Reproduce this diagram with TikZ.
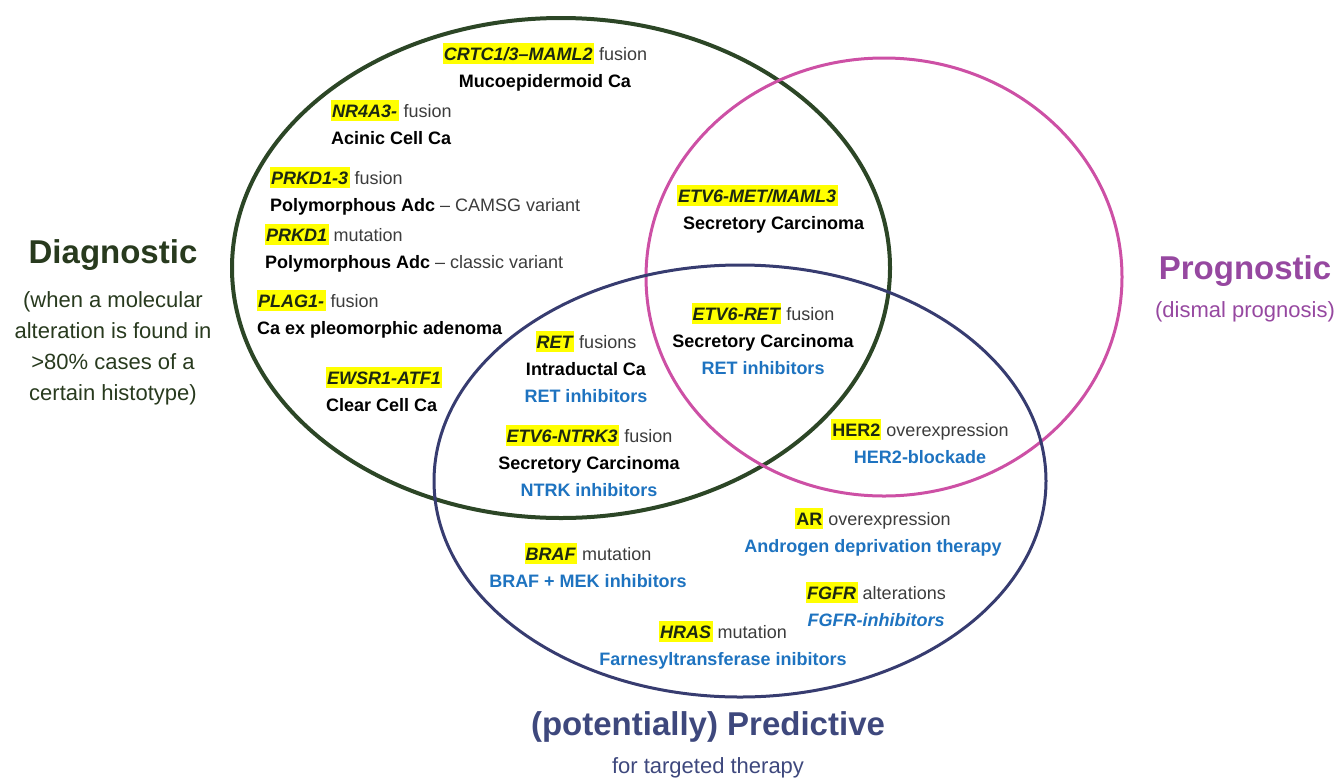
\documentclass[tikz,border=0pt]{standalone}
\usepackage{fontspec}
\setmainfont{Liberation Sans}
\usetikzlibrary{positioning}
\definecolor{diaggreen}{RGB}{44,70,38}
\definecolor{diagtext}{RGB}{40,58,30}
\definecolor{pinkline}{RGB}{205,80,165}
\definecolor{progtext}{RGB}{150,72,160}
\definecolor{navyline}{RGB}{55,60,112}
\definecolor{predtext}{RGB}{62,72,125}
\definecolor{bluetx}{RGB}{30,115,192}
\definecolor{hlyellow}{RGB}{255,255,0}
\definecolor{genec}{RGB}{28,40,18}
\definecolor{graytx}{RGB}{60,60,60}
\newcommand\gene[1]{{\setlength{\fboxsep}{0pt}\colorbox{hlyellow}{\rule[-3.5pt]{0pt}{21pt}\hspace{1pt}\color{genec}\bfseries\itshape #1\hspace{1.5pt}}}}
\newcommand\geneup[1]{{\setlength{\fboxsep}{0pt}\colorbox{hlyellow}{\rule[-3.5pt]{0pt}{21pt}\hspace{1pt}\color{genec}\bfseries #1\hspace{1pt}}}}
\newcommand\rg[1]{{\color{graytx}#1}}
\newcommand\dis[1]{{\bfseries #1}}
\newcommand\thr[1]{{\color{bluetx}\bfseries #1}}
\tikzset{
  entry/.style={inner sep=0pt, font=\fontsize{18}{27}\selectfont},
  entryc/.style={entry, align=center},
  entryl/.style={entry, align=left, anchor=west},
  greenring/.style={draw=diaggreen, line width=4pt},
  pinkring/.style={draw=pinkline, line width=3pt},
  navyring/.style={draw=navyline, line width=3pt},
  bigtitle/.style={inner sep=0pt, font=\fontsize{33}{36}\selectfont\bfseries},
  subtitle/.style={inner sep=0pt, align=center, font=\fontsize{22}{31}\selectfont},
}
\begin{document}
\begin{tikzpicture}[x=1pt,y=-1pt]
\useasboundingbox (0,0) rectangle (1337,782);
% circles
\draw[greenring] (561,268) ellipse [x radius=329pt, y radius=250pt];
\draw[pinkring] (884,277) ellipse [x radius=238pt, y radius=219pt];
\draw[navyring] (740,481) ellipse [x radius=306pt, y radius=216pt];
% titles
\node[bigtitle, text=diagtext] (diag) at (113,255) {Diagnostic};
\node[subtitle, text=diagtext] (diagsub) at (113,348) {(when a molecular\\alteration is found in\\>80\% cases of a\\certain histotype)};
\node[bigtitle, text=progtext] (prog) at (1245,271) {Prognostic};
\node[subtitle, text=progtext] (progsub) at (1245,312) {(dismal prognosis)};
\node[bigtitle, text=predtext] (pred) at (708,727) {(potentially) Predictive};
\node[subtitle, text=predtext] (predsub) at (708,768) {for targeted therapy};
% diagnostic only
\node[entryc] (crtc) at (545,67) {\gene{CRTC1/3–MAML2} \rg{fusion}\\\dis{Mucoepidermoid Ca}};
\node[entryl] (nr4a3) at (331,122) {\gene{NR4A3-} \rg{fusion}\\\dis{Acinic Cell Ca}};
\node[entryl] (prkd13) at (270,191.5) {\gene{PRKD1-3} \rg{fusion}\\\dis{Polymorphous Adc} \rg{– CAMSG variant}};
\node[entryl] (prkd1) at (265,248.5) {\gene{PRKD1} \rg{mutation}\\\dis{Polymorphous Adc} \rg{– classic variant}};
\node[entryl] (plag1) at (257,314) {\gene{PLAG1-} \rg{fusion}\\\dis{Ca ex pleomorphic adenoma}};
\node[entryl] (ewsr) at (326,389.5) {\gene{EWSR1-ATF1}\\\dis{Clear Cell Ca}};
% diagnostic + predictive
\node[entryc] (ret) at (586,366.5) {\gene{RET} \rg{fusions}\\\dis{Intraductal Ca}\\\thr{RET inhibitors}};
\node[entryc] (ntrk) at (589,461) {\gene{ETV6-NTRK3} \rg{fusion}\\\dis{Secretory Carcinoma}\\\thr{NTRK inhibitors}};
% diagnostic + prognostic
\node[entryl] (etvmet) at (677,209.5) {\gene{ETV6-MET/MAML3}\\\hspace*{6pt}\dis{Secretory Carcinoma}};
% all three
\node[entryc] (etvret) at (763,339) {\gene{ETV6-RET} \rg{fusion}\\\dis{Secretory Carcinoma}\\\thr{RET inhibitors}};
% prognostic + predictive
\node[entryc] (her2) at (920,441.5) {\geneup{HER2} \rg{overexpression}\\\thr{HER2-blockade}};
% predictive only
\node[entryc] (ar) at (873,532.5) {\geneup{AR} \rg{overexpression}\\\thr{Androgen deprivation therapy}};
\node[entryc] (braf) at (588,565.5) {\gene{BRAF} \rg{mutation}\\\thr{BRAF + MEK inhibitors}};
\node[entryc] (fgfr) at (876,604) {\gene{FGFR} \rg{alterations}\\{\color{bluetx}\bfseries\itshape FGFR-inhibitors}};
\node[entryc] (hras) at (723,645.5) {\gene{HRAS} \rg{mutation}\\\thr{Farnesyltransferase inibitors}};
\end{tikzpicture}
\end{document}
